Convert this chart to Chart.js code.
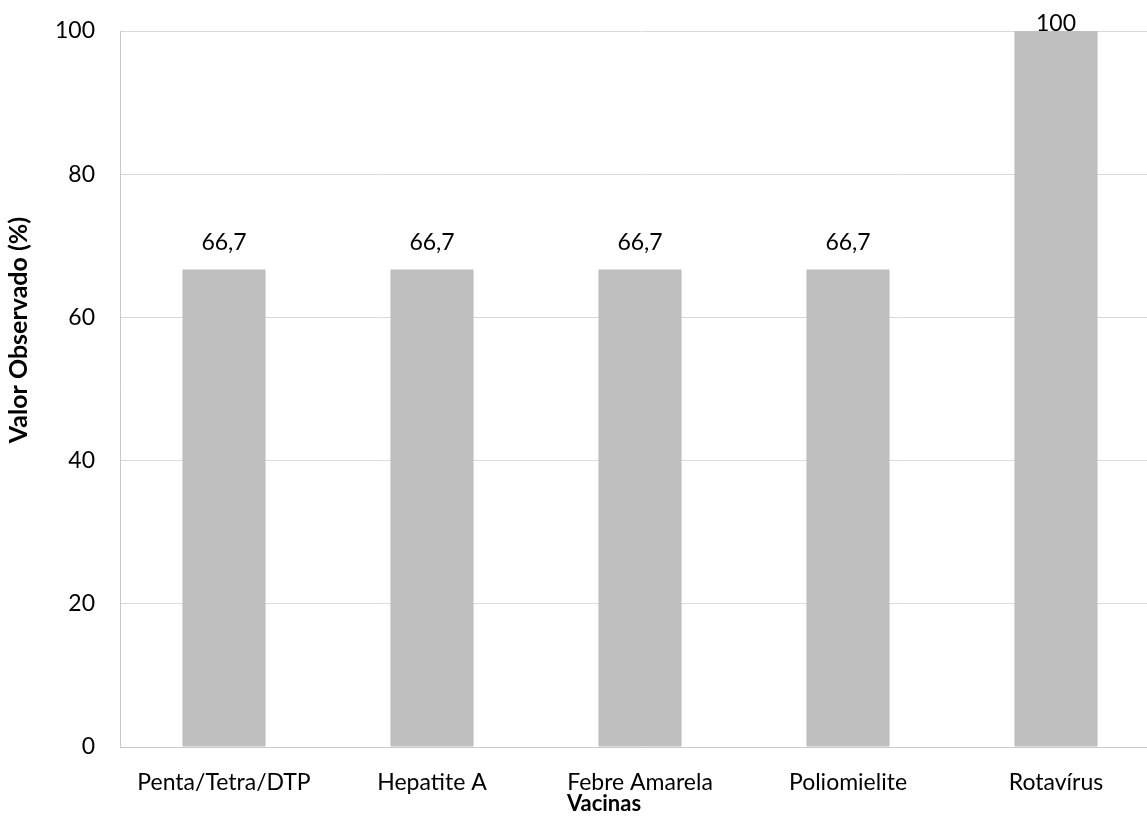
<!DOCTYPE html>
<html><head><meta charset="utf-8">
<script src="https://cdn.jsdelivr.net/npm/chart.js@4"></script>
<style>html,body{margin:0;padding:0;overflow:hidden;background:#fff}#wrap{width:1165px;height:817px}</style>
</head><body><div id="wrap"><canvas id="c" width="1165" height="817"></canvas></div>
<script>
const categories = ["Penta/Tetra/DTP", "Hepatite A", "Febre Amarela", "Poliomielite", "Rotavírus"];
const values = [66.7, 66.7, 66.7, 66.7, 100];
const valueLabels = ["66,7", "66,7", "66,7", "66,7", "100"];
const yTicks = [0, 20, 40, 60, 80, 100];
const xTitle = "Vacinas";
const yTitle = "Valor Observado (%)";

const FONT = "Lato, 'Open Sans', sans-serif";
const labelPlugin = {
  id: 'vlabels',
  afterDatasetsDraw(chart) {
    const ctx = chart.ctx;
    const meta = chart.getDatasetMeta(0);
    ctx.save();
    ctx.font = "23px " + FONT;
    ctx.fillStyle = "#000";
    ctx.textAlign = "center";
    ctx.textBaseline = "middle";
    meta.data.forEach((bar, i) => {
      const y = Math.max(bar.y - 27, 24);
      ctx.fillText(valueLabels[i], bar.x, y);
    });
    // axis titles
    ctx.font = "bold 22px " + FONT;
    ctx.fillText(xTitle, 604, 804);
    ctx.translate(19, 330);
    ctx.rotate(-Math.PI / 2);
    ctx.font = "bold 25px " + FONT;
    ctx.fillText(yTitle, 0, 0);
    ctx.restore();
  }
};
new Chart(document.getElementById('c'), {
  type: 'bar',
  data: { labels: categories, datasets: [{ data: values, backgroundColor: '#BFBFBF', borderWidth: 0, categoryPercentage: 0.4, barPercentage: 1 }] },
  options: {
    responsive: false, animation: false,
    layout: { padding: { top: 31, right: 5, left: 0, bottom: 0 } },
    plugins: { legend: { display: false }, tooltip: { enabled: false } },
    scales: {
      x: {
        grid: { display: false, drawTicks: false },
        border: { color: '#C8C8C8', width: 1 },
        ticks: { color: '#000', font: { family: FONT, size: 23 }, padding: 22, maxRotation: 0, autoSkip: false },
        afterFit(s) { s.height = 70; s.paddingLeft = 0; s.paddingRight = 0; }
      },
      y: {
        min: 0, max: 100,
        afterBuildTicks(s) { s.ticks = yTicks.map(v => ({ value: v })); },
        grid: { color: '#D9D9D9', drawTicks: false },
        border: { color: '#C8C8C8', width: 1 },
        ticks: { color: '#000', font: { family: FONT, size: 23 }, padding: 25 },
        afterFit(s) { s.width = 120; s.paddingTop = 0; s.paddingBottom = 0; }
      }
    }
  },
  plugins: [labelPlugin]
});
</script></body></html>
